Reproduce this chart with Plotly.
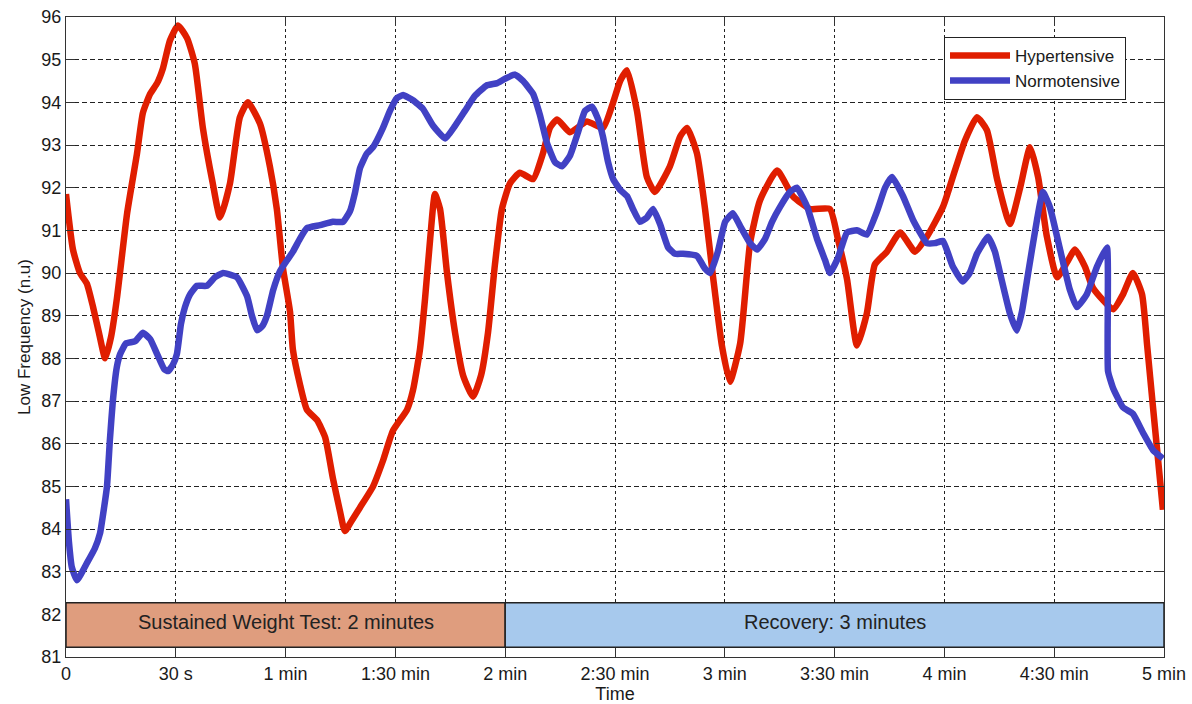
import plotly.graph_objects as go

# Time axis (seconds) and Low Frequency (n.u) readings for each group
hyper_t = [0, 1.9, 3.8, 5.7, 7.4, 9.0, 10.7, 12.3, 13.9, 16.7, 19.4, 21.0, 23.0, 24.9,
           26.5, 28.4, 30.6, 33.1, 35.2, 37.4, 40.1, 42.1, 44.8, 47.5, 49.7, 53.0,
           55.7, 57.6, 59.3, 61.2, 62.0, 63.9, 65.8, 68.6, 70.8, 72.9, 74.9, 76.2,
           78.1, 80.3, 83.9, 86.6, 89.3, 93.2, 94.8, 96.7, 98.1, 99.5, 100.8, 102.2,
           104.1, 106.3, 108.5, 111.2, 113.4, 115.3, 117.2, 119.1, 121.3, 124.0,
           127.6, 130.3, 132.2, 134.2, 137.7, 142.3, 146.7, 149.5, 151.4, 153.3,
           156.0, 158.7, 160.9, 165.0, 167.8, 169.7, 172.4, 174.6, 176.8, 179.2,
           181.4, 184.2, 186.9, 189.6, 194.3, 198.6, 203.3, 208.7, 210.9, 213.4,
           216.1, 218.8, 221.0, 224.3, 227.9, 232.0, 235.2, 239.6, 242.3, 245.6,
           248.9, 251.6, 254.4, 257.9, 260.7, 263.4, 265.6, 268.0, 270.8, 273.5,
           275.7, 278.4, 280.6, 286.1, 288.8, 291.5, 294.0, 295.4, 297.0, 299.7]
hyper_lf = [91.85, 90.55, 90.0, 89.75, 89.2, 88.6, 88.0, 88.5, 89.4, 91.4, 92.8, 93.75,
            94.2, 94.45, 94.8, 95.45, 95.8, 95.5, 94.9, 93.4, 92.1, 91.3, 92.1, 93.65,
            94.0, 93.5, 92.5, 91.5, 90.1, 89.1, 88.2, 87.4, 86.8, 86.55, 86.15, 85.2,
            84.4, 83.95, 84.2, 84.5, 85.0, 85.6, 86.3, 86.8, 87.25, 88.2, 89.4, 90.8,
            91.85, 91.5, 90.0, 88.6, 87.6, 87.1, 87.6, 88.6, 90.2, 91.5, 92.1, 92.35,
            92.2, 92.8, 93.4, 93.6, 93.3, 93.55, 93.4, 94.0, 94.5, 94.75, 93.8, 92.25,
            91.9, 92.5, 93.2, 93.4, 92.8, 91.5, 89.9, 88.3, 87.45, 88.35, 90.7, 91.7,
            92.4, 91.8, 91.5, 91.5, 90.8, 89.85, 88.3, 89.05, 90.2, 90.5, 90.95, 90.5,
            90.85, 91.55, 92.25, 93.1, 93.65, 93.35, 92.2, 91.15, 92.0, 92.95, 92.25,
            90.85, 89.9, 90.25, 90.55, 90.15, 89.65, 89.15, 89.5, 90.0, 89.5, 88.3,
            86.85, 84.45]

normo_t = [0, 0.8, 1.6, 3.0, 5.7, 7.9, 9.3, 10.4, 11.2, 12.0, 12.8, 13.9, 14.8, 16.4,
           18.9, 21.0, 23.0, 24.9, 26.8, 27.9, 29.2, 30.3, 31.4, 32.5, 33.9, 35.8,
           38.5, 40.7, 42.9, 46.7, 49.5, 50.8, 52.2, 53.6, 54.9, 56.6, 58.5, 60.4,
           62.0, 63.9, 65.8, 69.4, 72.9, 75.7, 77.6, 79.0, 80.3, 82.2, 83.9, 86.6,
           88.5, 90.4, 92.1, 94.8, 97.5, 100.3, 103.6, 106.3, 109.0, 111.7, 115.0,
           117.8, 119.9, 122.7, 124.9, 127.6, 129.5, 131.4, 133.6, 135.5, 137.7,
           139.9, 141.8, 143.7, 145.4, 146.7, 148.1, 149.5, 151.4, 153.3, 154.9,
           156.8, 158.7, 160.4, 162.3, 164.5, 166.4, 168.6, 172.4, 174.6, 176.0,
           178.1, 180.1, 182.2, 184.2, 186.9, 188.8, 191.0, 192.9, 195.1, 197.8,
           199.7, 202.5, 205.2, 207.4, 208.7, 210.9, 213.4, 216.1, 218.8, 221.6,
           223.8, 225.7, 228.7, 231.4, 235.2, 237.4, 239.6, 242.3, 245.0, 246.9,
           248.9, 251.9, 253.8, 255.2, 257.9, 259.8, 261.2, 262.6, 265.3, 266.9,
           268.8, 271.6, 274.3, 276.2, 278.9, 281.7, 284.4, 284.7, 286.1, 288.8,
           291.5, 294.3, 297.0, 299.7]
normo_lf = [84.7, 83.7, 83.1, 82.8, 83.2, 83.55, 83.9, 84.5, 85.0, 86.1, 87.0, 87.8,
            88.1, 88.35, 88.4, 88.6, 88.45, 88.1, 87.75, 87.7, 87.85, 88.1, 88.8, 89.2,
            89.5, 89.7, 89.7, 89.9, 90.0, 89.9, 89.45, 89.0, 88.66, 88.75, 89.0, 89.6,
            90.05, 90.3, 90.5, 90.8, 91.05, 91.12, 91.2, 91.2, 91.45, 91.9, 92.45, 92.8,
            92.95, 93.4, 93.8, 94.1, 94.17, 94.05, 93.85, 93.45, 93.15, 93.45, 93.8,
            94.15, 94.4, 94.45, 94.55, 94.65, 94.5, 94.2, 93.7, 93.05, 92.6, 92.5,
            92.75, 93.3, 93.8, 93.9, 93.6, 93.2, 92.6, 92.2, 91.95, 91.8, 91.5, 91.2,
            91.3, 91.5, 91.15, 90.6, 90.45, 90.45, 90.4, 90.1, 90.0, 90.5, 91.2, 91.4,
            91.1, 90.7, 90.55, 90.8, 91.2, 91.55, 91.9, 92.0, 91.55, 90.8, 90.3, 90.0,
            90.35, 90.95, 91.0, 90.9, 91.45, 92.0, 92.25, 91.8, 91.25, 90.7, 90.7,
            90.75, 90.15, 89.8, 90.0, 90.45, 90.85, 90.5, 90.0, 89.05, 88.65, 89.1,
            89.85, 91.25, 91.9, 91.55, 90.55, 89.6, 89.2, 89.5, 90.15, 90.6, 87.7,
            87.3, 86.85, 86.7, 86.25, 85.85, 85.65]

# Axis ticks
x_tickvals = [0, 30, 60, 90, 120, 150, 180, 210, 240, 270, 300]
x_ticktext = ["0", "30 s", "1 min", "1:30 min", "2 min", "2:30 min", "3 min",
              "3:30 min", "4 min", "4:30 min", "5 min"]
y_tickvals = list(range(81, 97))

# Protocol phases shown as a bar along the bottom
phase_names = ["Sustained Weight Test: 2 minutes", "Recovery: 3 minutes"]
phase_start = [0, 120]
phase_end = [120, 300]
phase_colors = ["#DF9D7E", "#A7C9ED"]

FONT = "Liberation Sans, Arial, sans-serif"
RED = "#E01E00"
BLUE = "#4141C4"
TEXT = "#1a1a1a"

fig = go.Figure()
fig.add_trace(go.Scatter(x=hyper_t, y=hyper_lf, mode="lines", name="Hypertensive",
                         line=dict(color=RED, width=6.5, shape="spline", smoothing=0.5)))
fig.add_trace(go.Scatter(x=normo_t, y=normo_lf, mode="lines", name="Normotensive",
                         line=dict(color=BLUE, width=6.5, shape="spline", smoothing=0.4)))

band_lo, band_hi = 81.23, 82.27
for name, x0, x1, col in zip(phase_names, phase_start, phase_end, phase_colors):
    fig.add_shape(type="rect", x0=x0, x1=x1, y0=band_lo, y1=band_hi,
                  xref="x", yref="y", layer="above",
                  fillcolor=col, line=dict(color="#222222", width=1.5))
    fig.add_annotation(x=(x0 + x1) / 2, y=(band_lo + band_hi) / 2 + 0.08,
                       text=name, showarrow=False, xref="x", yref="y",
                       font=dict(family=FONT, size=20, color="#222222"))

axis_common = dict(showline=True, linecolor="#333333", linewidth=1.2, mirror="ticks",
                   ticks="inside", ticklen=9, tickcolor="#333333", showgrid=True,
                   gridcolor="#222222", gridwidth=1, zeroline=False, automargin=False,
                   tickfont=dict(family=FONT, size=18, color=TEXT))

fig.update_xaxes(range=[0, 300], tickmode="array", tickvals=x_tickvals,
                 ticktext=x_ticktext, griddash="3px,3px",
                 title=dict(text="Time", standoff=0,
                            font=dict(family=FONT, size=18, color=TEXT)),
                 **axis_common)
fig.update_yaxes(range=[81, 96], tickmode="array", tickvals=y_tickvals,
                 griddash="5px,3px",
                 title=dict(text="Low Frequency (n.u)", standoff=6,
                            font=dict(family=FONT, size=17, color=TEXT)),
                 **axis_common)

fig.update_layout(
    width=1192, height=704,
    margin=dict(l=66, r=28, t=17, b=47),
    paper_bgcolor="white", plot_bgcolor="white",
    font=dict(family=FONT),
    legend=dict(x=0.9654, y=0.969, xanchor="right", yanchor="top",
                bgcolor="white", bordercolor="#222222", borderwidth=1,
                itemwidth=60, tracegroupgap=0,
                font=dict(family=FONT, size=17, color=TEXT)),
)

fig.write_html("out.html")
